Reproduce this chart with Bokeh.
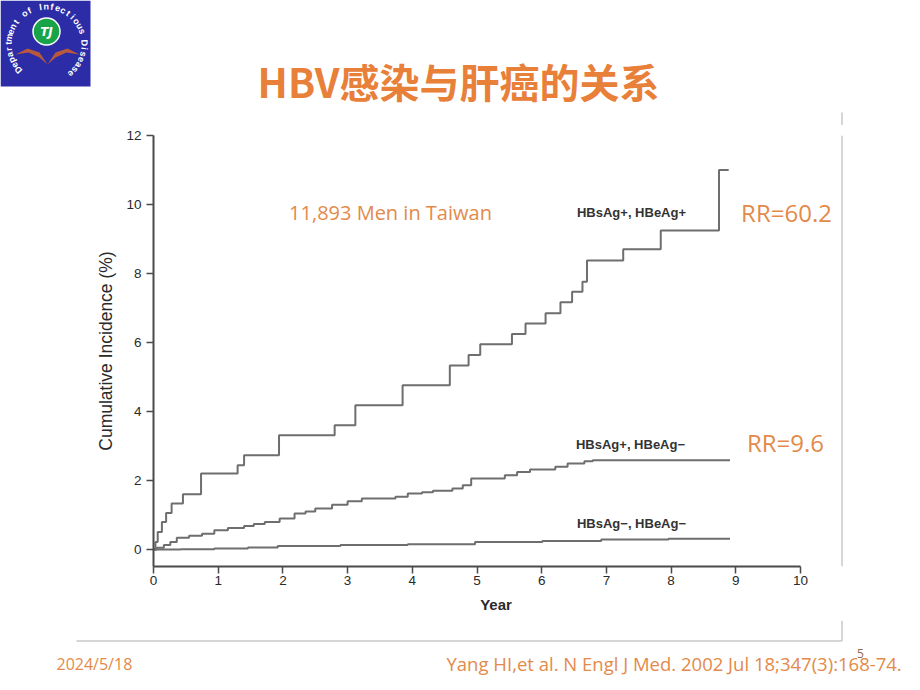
import math
from bokeh.plotting import figure
from bokeh.layouts import column, row
from bokeh.models import Label, Range1d, FixedTicker
from bokeh.core.properties import value
from bokeh.embed import file_html
from bokeh.resources import INLINE

# ---------------- data ----------------
year_ticks = [0, 1, 2, 3, 4, 5, 6, 7, 8, 9, 10]
incidence_ticks = [0, 2, 4, 6, 8, 10, 12]

# HBsAg+, HBeAg+
pos_pos_years = [0.0, 0.03, 0.065, 0.13, 0.195, 0.28, 0.455, 0.735, 1.30, 1.40,
                 1.94, 2.80, 3.12, 3.85, 4.58, 4.87, 5.05, 5.54, 5.75, 6.06,
                 6.29, 6.47, 6.63, 6.70, 7.26, 7.84, 8.74, 8.89]
pos_pos_inc = [0.0, 0.22, 0.51, 0.80, 1.06, 1.33, 1.60, 2.20, 2.44, 2.73,
               3.31, 3.60, 4.18, 4.76, 5.33, 5.64, 5.95, 6.25, 6.55, 6.85,
               7.17, 7.47, 7.76, 8.38, 8.70, 9.25, 11.0, 11.0]

# HBsAg+, HBeAg-
pos_neg_years = [0.0, 0.05, 0.16, 0.26, 0.36, 0.55, 0.75, 0.94, 1.15, 1.40,
                 1.55, 1.72, 1.95, 2.18, 2.35, 2.50, 2.76, 3.00, 3.22, 3.74,
                 3.93, 4.15, 4.32, 4.62, 4.78, 4.91, 5.43, 5.62, 5.82, 6.21,
                 6.40, 6.66, 6.79, 8.91]
pos_neg_inc = [0.0, 0.05, 0.13, 0.22, 0.34, 0.40, 0.46, 0.56, 0.62, 0.68,
               0.74, 0.80, 0.90, 1.04, 1.10, 1.19, 1.30, 1.40, 1.48, 1.53,
               1.62, 1.66, 1.70, 1.77, 1.86, 2.06, 2.15, 2.25, 2.32, 2.40,
               2.49, 2.56, 2.59, 2.59]

# HBsAg-, HBeAg-
neg_neg_years = [0.0, 0.42, 0.94, 1.46, 1.92, 2.89, 3.93, 4.97, 6.01, 6.92, 7.96, 8.91]
neg_neg_inc = [0.0, 0.01, 0.03, 0.06, 0.10, 0.13, 0.15, 0.22, 0.25, 0.29, 0.31, 0.31]

series_labels = ["HBsAg+, HBeAg+", "HBsAg+, HBeAg\u2212", "HBsAg\u2212, HBeAg\u2212"]
rr_labels = ["RR=60.2", "RR=9.6"]
title_text = "HBV感染与肝癌的关系"
cohort_text = "11,893 Men in Taiwan"
date_text = "2024/5/18"
cite_text = "Yang HI,et al. N Engl J Med. 2002 Jul 18;347(3):168-74."
page_no = "5"
logo_text = "Department of Infectious Disease"

ORANGE = "#E8803A"
TEXT_ORANGE = "#E38A4A"
CURVE = "#6e6e6e"
AXIS = "#4a4a4a"
FRAME_GRAY = "#c8c8c8"

# ---------------- page geometry (px) ----------------
PAGE_W = 920
TOP_H = 125          # title strip (page y 0..125)
MAIN_BOTTOM = 620    # main row spans page y 125..620
BOT_H = 70           # bottom strip
MAIN_R = 838         # right edge of main figure
AX_LEFT = 153        # y axis (x = 0)
AX_TOP = 135         # y = 12
AX_BOTTOM = 566      # x axis line
PX_PER_YEAR = 64.7
PX_PER_PCT = 34.5
Y0_PX = 549          # y = 0
EDGE_X = 841.5       # right edge of the pasted figure frame


def deco_fig(w, h, x0, y0):
    f = figure(width=w, height=h, x_range=Range1d(x0, x0 + w), y_range=Range1d(y0 + h, y0),
               output_backend="svg", toolbar_location=None,
               x_axis_location=None, y_axis_location=None,
               min_border=0, min_border_left=0, min_border_right=0,
               min_border_top=0, min_border_bottom=0,
               outline_line_color=None, background_fill_color="white",
               border_fill_color="white")
    f.grid.visible = False
    return f


# ---------------- top strip: logo + title ----------------
tp = deco_fig(PAGE_W, TOP_H, 0, 0)
tp.quad(left=[0], right=[90], top=[0], bottom=[86], fill_color="#2b2ca6", line_color=None)
wing_l = [(47, 64), (39, 52), (27, 48), (15, 54), (28, 52), (39, 57)]
wing_r = [(47, 64), (55, 52), (67, 48), (79, 54), (66, 52), (55, 57)]
tp.patches([[a for a, b in wing_l], [a for a, b in wing_r]],
           [[b for a, b in wing_l], [b for a, b in wing_r]],
           fill_color="#b8583c", line_color=None)
tp.scatter([46], [31], size=27, marker="circle", fill_color="#18a349", line_color="white",
           line_width=1.5)
tp.text([46], [31], text=["TJ"], text_font=value("DejaVu Sans"), text_font_size="12px",
        text_font_style="bold italic", text_color="white", text_align="center",
        text_baseline="middle")
lcx, lcy, lr = 46, 44, 38
start, sweep = math.radians(222), math.radians(272)
chars, cxs, cys, angs = [], [], [], []
n = len(logo_text)
for i, ch in enumerate(logo_text):
    th = start - sweep * i / (n - 1)
    if ch == " ":
        continue
    chars.append(ch)
    cxs.append(lcx + lr * math.cos(th))
    cys.append(lcy - lr * math.sin(th))
    angs.append(th - math.pi / 2)
tp.text(cxs, cys, text=chars, angle=angs, text_font=value("Liberation Sans"),
        text_font_size="9px", text_font_style="bold", text_color="white",
        text_align="center", text_baseline="middle")
tp.text([458], [80], text=[title_text], text_font=value("Noto Sans CJK SC"),
        text_font_size="40px", text_font_style="bold", text_color=ORANGE,
        text_align="center", text_baseline="middle")
tp.segment(x0=[EDGE_X], y0=[112], x1=[EDGE_X], y1=[TOP_H], line_color=FRAME_GRAY,
           line_width=1.5)

# ---------------- main chart ----------------
main_h = MAIN_BOTTOM - TOP_H
frame_w = MAIN_R - AX_LEFT
p = figure(width=MAIN_R, height=main_h, output_backend="svg", toolbar_location=None,
           x_range=Range1d(0, frame_w / PX_PER_YEAR),
           y_range=Range1d(-(AX_BOTTOM - Y0_PX) / PX_PER_PCT, incidence_ticks[-1]),
           min_border_left=AX_LEFT, min_border_right=0,
           min_border_top=AX_TOP - TOP_H, min_border_bottom=MAIN_BOTTOM - AX_BOTTOM,
           background_fill_color="white", border_fill_color="white",
           outline_line_color=None)
p.grid.visible = False

for ax in (p.xaxis[0], p.yaxis[0]):
    ax.axis_line_color = AXIS
    ax.axis_line_width = 2
    ax.major_tick_line_color = AXIS
    ax.major_tick_line_width = 1.5
    ax.major_tick_out = 7
    ax.major_tick_in = 0
    ax.minor_tick_line_color = None
    ax.major_label_text_font = "Liberation Sans"
    ax.major_label_text_font_size = "13.5px"
    ax.major_label_text_color = "#2a2a2a"
    ax.axis_label_text_font = "Liberation Sans"
    ax.axis_label_text_color = "#2a2a2a"
    ax.axis_label_text_font_style = "normal"

p.xaxis.ticker = FixedTicker(ticks=year_ticks)
p.yaxis.ticker = FixedTicker(ticks=incidence_ticks)
p.xaxis.bounds = (year_ticks[0], year_ticks[-1])
p.xaxis.axis_label = "Year"
p.xaxis.axis_label_text_font_size = "15px"
p.xaxis.axis_label_text_font_style = "bold"
p.xaxis.major_label_standoff = 2
p.xaxis.axis_label_standoff = 8
p.yaxis.axis_label = "Cumulative Incidence (%)"
p.yaxis.axis_label_text_font_size = "17.5px"
p.yaxis.major_label_standoff = 5
p.yaxis.axis_label_standoff = 7

for xs, ys in ((pos_pos_years, pos_pos_inc), (pos_neg_years, pos_neg_inc),
               (neg_neg_years, neg_neg_inc)):
    p.step(xs, ys, mode="after", line_color=CURVE, line_width=2)


def main_label(text, px, py, size, color, font="Liberation Sans", style="normal",
               align="center"):
    p.add_layout(Label(x=px - AX_LEFT, y=AX_BOTTOM - py, x_units="screen", y_units="screen",
                       text=text, text_font=font, text_font_size=size,
                       text_font_style=style, text_color=color,
                       text_align=align, text_baseline="middle"))


main_label(cohort_text, 390, 212, "20px", TEXT_ORANGE, font="Open Sans")
main_label(series_labels[0], 631, 212, "13px", "#333333", style="bold")
main_label(series_labels[1], 630, 444, "13px", "#333333", style="bold")
main_label(series_labels[2], 631, 523, "13px", "#333333", style="bold")
main_label(rr_labels[0], 786, 212, "24px", TEXT_ORANGE, font="Open Sans")
main_label(rr_labels[1], 785, 442, "24px", TEXT_ORANGE, font="Open Sans")

# ---------------- right strip ----------------
rt = deco_fig(PAGE_W - MAIN_R, main_h, MAIN_R, TOP_H)
rt.segment(x0=[EDGE_X], y0=[TOP_H], x1=[EDGE_X], y1=[MAIN_BOTTOM], line_color=FRAME_GRAY,
           line_width=1.5)

# ---------------- bottom strip ----------------
bt = deco_fig(PAGE_W, BOT_H, 0, MAIN_BOTTOM)
bt.segment(x0=[76, EDGE_X], y0=[640.5, MAIN_BOTTOM], x1=[EDGE_X, EDGE_X], y1=[640.5, 640.5],
           line_color=FRAME_GRAY, line_width=1.5)
bt.text([56], [663], text=[date_text], text_font=value("Open Sans"), text_font_size="16px",
        text_color=TEXT_ORANGE, text_align="left", text_baseline="middle")
bt.text([446], [663], text=[cite_text], text_font=value("Open Sans"), text_font_size="18.5px",
        text_color=TEXT_ORANGE, text_align="left", text_baseline="middle")
bt.text([860], [653], text=[page_no], text_font=value("Open Sans"), text_font_size="12px",
        text_color="#8a6a50", text_align="center", text_baseline="middle")

layout = column(tp, row(p, rt), bt)
open("out.html", "w").write(file_html(layout, INLINE))
